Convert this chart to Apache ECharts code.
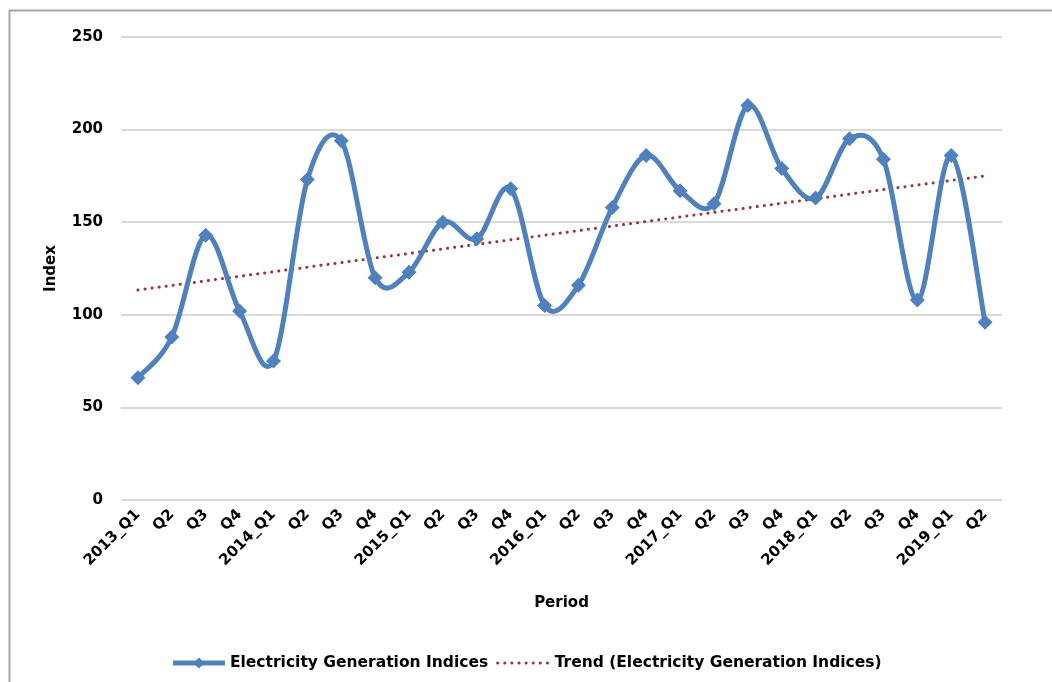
<!DOCTYPE html>
<html>
<head>
<meta charset="utf-8">
<script src="https://cdn.jsdelivr.net/npm/echarts@6/dist/echarts.min.js"></script>
<style>
html,body{margin:0;padding:0;background:#fff;}
#chart{width:1052px;height:682px;}
</style>
</head>
<body>
<div id="chart"></div>
<script>
var categories = ["2013_Q1","Q2","Q3","Q4","2014_Q1","Q2","Q3","Q4","2015_Q1","Q2","Q3","Q4","2016_Q1","Q2","Q3","Q4","2017_Q1","Q2","Q3","Q4","2018_Q1","Q2","Q3","Q4","2019_Q1","Q2"];
var generationIndices = [66,88,143,102,75,173,194,120,123,150,141,168,105,116,158,186,167,160,213,179,163,195,184,108,186,96];
// linear trend line: start and end values
var trendStart = 113.4;
var trendEnd = 175;
var yTicks = [0,50,100,150,200,250];

var BLUE = '#4f81bd';
var RED = '#953735';
var n = generationIndices.length;
var trendData = categories.map(function(c,i){
  if (i === 0) return trendStart;
  if (i === n-1) return trendEnd;
  return null;
});
var curveData = generationIndices.map(function(v,i){ return [i, v]; });

// Excel-like smoothed curve (Catmull-Rom Bezier), positioned through the axis scales
function renderCurve(params, api){
  var i = params.dataIndex;
  if (i >= n-1) return null;
  function p(k){ k = Math.max(0, Math.min(n-1, k)); return api.coord([k, generationIndices[k]]); }
  var p0 = p(i-1), p1 = p(i), p2 = p(i+1), p3 = p(i+2);
  var t = 1/6;
  return {
    type:'bezierCurve',
    shape:{
      x1:p1[0], y1:p1[1], x2:p2[0], y2:p2[1],
      cpx1:p1[0]+(p2[0]-p0[0])*t, cpy1:p1[1]+(p2[1]-p0[1])*t,
      cpx2:p2[0]-(p3[0]-p1[0])*t, cpy2:p2[1]-(p3[1]-p1[1])*t
    },
    style:{stroke:BLUE, lineWidth:5, fill:null, lineCap:'round', lineJoin:'round'}
  };
}

var FONT = '"DejaVu Sans", sans-serif';
var chart = echarts.init(document.getElementById('chart'));
chart.setOption({
  animation:false,
  backgroundColor:'#fff',
  graphic:[{
    type:'rect', shape:{x:9.5,y:10.5,width:1100,height:700},
    style:{fill:'none',stroke:'#a6a6a6',lineWidth:2}, silent:true, z:-1
  }],
  grid:{left:121,right:50,top:37,bottom:182},
  xAxis:{
    type:'category', data:categories, boundaryGap:true,
    name:'Period', nameLocation:'middle', nameGap:96,
    nameTextStyle:{fontFamily:FONT,fontWeight:'bold',fontSize:15,color:'#000'},
    axisLine:{show:false}, axisTick:{show:false},
    axisLabel:{interval:0, rotate:45, margin:12, fontFamily:FONT, fontWeight:'bold', fontSize:15, color:'#000'}
  },
  yAxis:{
    type:'value', min:yTicks[0], max:yTicks[yTicks.length-1], interval:50,
    name:'Index', nameLocation:'middle', nameGap:62, nameRotate:90,
    nameTextStyle:{fontFamily:FONT,fontWeight:'bold',fontSize:15,color:'#000'},
    axisLine:{show:false}, axisTick:{show:false},
    axisLabel:{margin:18, fontFamily:FONT, fontWeight:'bold', fontSize:15, color:'#000'},
    splitLine:{lineStyle:{color:'#d9d9d9',width:2}}
  },
  legend:{
    bottom:6, left:'center', itemWidth:52, itemHeight:14, itemGap:8,
    textStyle:{fontFamily:FONT,fontWeight:'bold',fontSize:15.5,color:'#000'},
    data:[
      {name:'Electricity Generation Indices', lineStyle:{width:5, opacity:1, color:BLUE}},
      {name:'Trend (Electricity Generation Indices)', itemStyle:{opacity:0}, lineStyle:{width:3}}
    ]
  },
  series:[
    {
      name:'Trend (Electricity Generation Indices)', type:'line', data:trendData,
      connectNulls:true, showSymbol:false, symbol:'none',
      lineStyle:{color:RED,width:3,type:[0.1,7],cap:'round'},
      itemStyle:{color:RED}, z:1
    },
    {
      name:'curve', type:'custom', data:curveData, renderItem:renderCurve,
      encode:{x:0,y:1}, z:2, silent:true
    },
    {
      name:'Electricity Generation Indices', type:'line', data:generationIndices,
      symbol:'diamond', symbolSize:[15,15],
      lineStyle:{color:BLUE,width:5,opacity:0},
      itemStyle:{color:BLUE}, z:3
    }
  ]
});
</script>
</body>
</html>
